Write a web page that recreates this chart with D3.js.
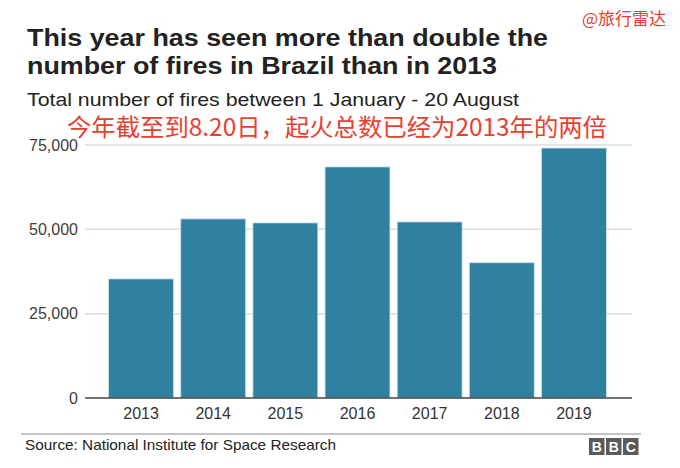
<!DOCTYPE html>
<html><head><meta charset="utf-8">
<script src="https://cdn.jsdelivr.net/npm/d3@7"></script>
<style>body{margin:0;background:#fff;} svg{display:block;}</style>
</head><body>
<script>
const years = ["2013","2014","2015","2016","2017","2018","2019"];
const fires = [35300, 53100, 51900, 68500, 52200, 40100, 74100];
const yTicks = [0, 25000, 50000, 75000];
const titleLines = ["This year has seen more than double the", "number of fires in Brazil than in 2013"];
const subtitle = "Total number of fires between 1 January - 20 August";
const note = "今年截至到8.20日，起火总数已经为2013年的两倍";
const watermark = "@旅行雷达";
const source = "Source: National Institute for Space Research";

const W = 680, H = 468;
const svg = d3.select("body").append("svg").attr("width", W).attr("height", H);
const font = "'Liberation Sans', Arial, Helvetica, sans-serif";
const cjk = "'Noto Sans CJK SC', sans-serif";

const x = d3.scaleBand().domain(years).range([105, 610]).paddingInner(0.1).paddingOuter(0.05);
const y = d3.scaleLinear().domain([0, 75000]).range([398, 145]);

// gridlines
svg.append("g").selectAll("line").data(yTicks.filter(d => d > 0)).join("line")
  .attr("x1", 85).attr("x2", 632).attr("y1", d => y(d)).attr("y2", d => y(d))
  .attr("stroke", "#dcdcdc").attr("stroke-width", 1.5);

// y tick labels
svg.append("g").selectAll("text").data(yTicks).join("text")
  .attr("x", 78).attr("y", d => y(d)).attr("dy", "0.35em")
  .attr("text-anchor", "end").attr("font-family", font).attr("font-size", 16)
  .attr("fill", "#404040").text(d => d3.format(",")(d));

// bars
svg.append("g").selectAll("rect").data(years).join("rect")
  .attr("x", d => x(d)).attr("width", x.bandwidth())
  .attr("y", (d, i) => y(fires[i])).attr("height", (d, i) => y(0) - y(fires[i]))
  .attr("fill", "#30809f").attr("stroke", "#cfe3ea").attr("stroke-width", 0.8);

// baseline
svg.append("line").attr("x1", 85).attr("x2", 632).attr("y1", y(0)).attr("y2", y(0))
  .attr("stroke", "#444").attr("stroke-width", 1.5);

// x labels
svg.append("g").selectAll("text").data(years).join("text")
  .attr("x", d => x(d) + x.bandwidth() / 2).attr("y", 419)
  .attr("text-anchor", "middle").attr("font-family", font).attr("font-size", 16)
  .attr("fill", "#333").text(d => d);

// titles
const titleLens = [521, 470];
svg.append("g").selectAll("text").data(titleLines).join("text")
  .attr("x", 27).attr("y", (d, i) => 46 + i * 28)
  .attr("font-family", font).attr("font-weight", "bold").attr("font-size", 23)
  .attr("textLength", (d, i) => titleLens[i]).attr("lengthAdjust", "spacingAndGlyphs")
  .attr("fill", "#222").text(d => d);

svg.append("text").attr("x", 27).attr("y", 106).attr("font-family", font)
  .attr("font-size", 19).attr("textLength", 492).attr("lengthAdjust", "spacingAndGlyphs")
  .attr("fill", "#222").text(subtitle);

svg.append("text").attr("x", 67).attr("y", 136).attr("font-family", cjk)
  .attr("font-size", 24).attr("textLength", 540).attr("lengthAdjust", "spacingAndGlyphs")
  .attr("fill", "#e8402f").text(note);

svg.append("text").attr("x", 666).attr("y", 25).attr("text-anchor", "end").attr("font-family", cjk)
  .attr("font-size", 17).attr("fill", "#e8402f").text(watermark);

// footer
svg.append("line").attr("x1", 21).attr("x2", 641).attr("y1", 434).attr("y2", 434)
  .attr("stroke", "#888").attr("stroke-width", 1);
svg.append("text").attr("x", 25).attr("y", 450).attr("font-family", font)
  .attr("font-size", 15).attr("textLength", 311).attr("lengthAdjust", "spacingAndGlyphs")
  .attr("fill", "#222").text(source);

const bbc = svg.append("g").attr("transform", "translate(589,438)");
["B","B","C"].forEach((ch, i) => {
  bbc.append("rect").attr("x", i * 17).attr("y", 0).attr("width", 15.5).attr("height", 17).attr("fill", "#5a5a5a");
  bbc.append("text").attr("x", i * 17 + 7.75).attr("y", 14).attr("text-anchor", "middle")
    .attr("font-family", font).attr("font-weight", "bold").attr("font-size", 14).attr("fill", "#fff").text(ch);
});
</script>
</body></html>
